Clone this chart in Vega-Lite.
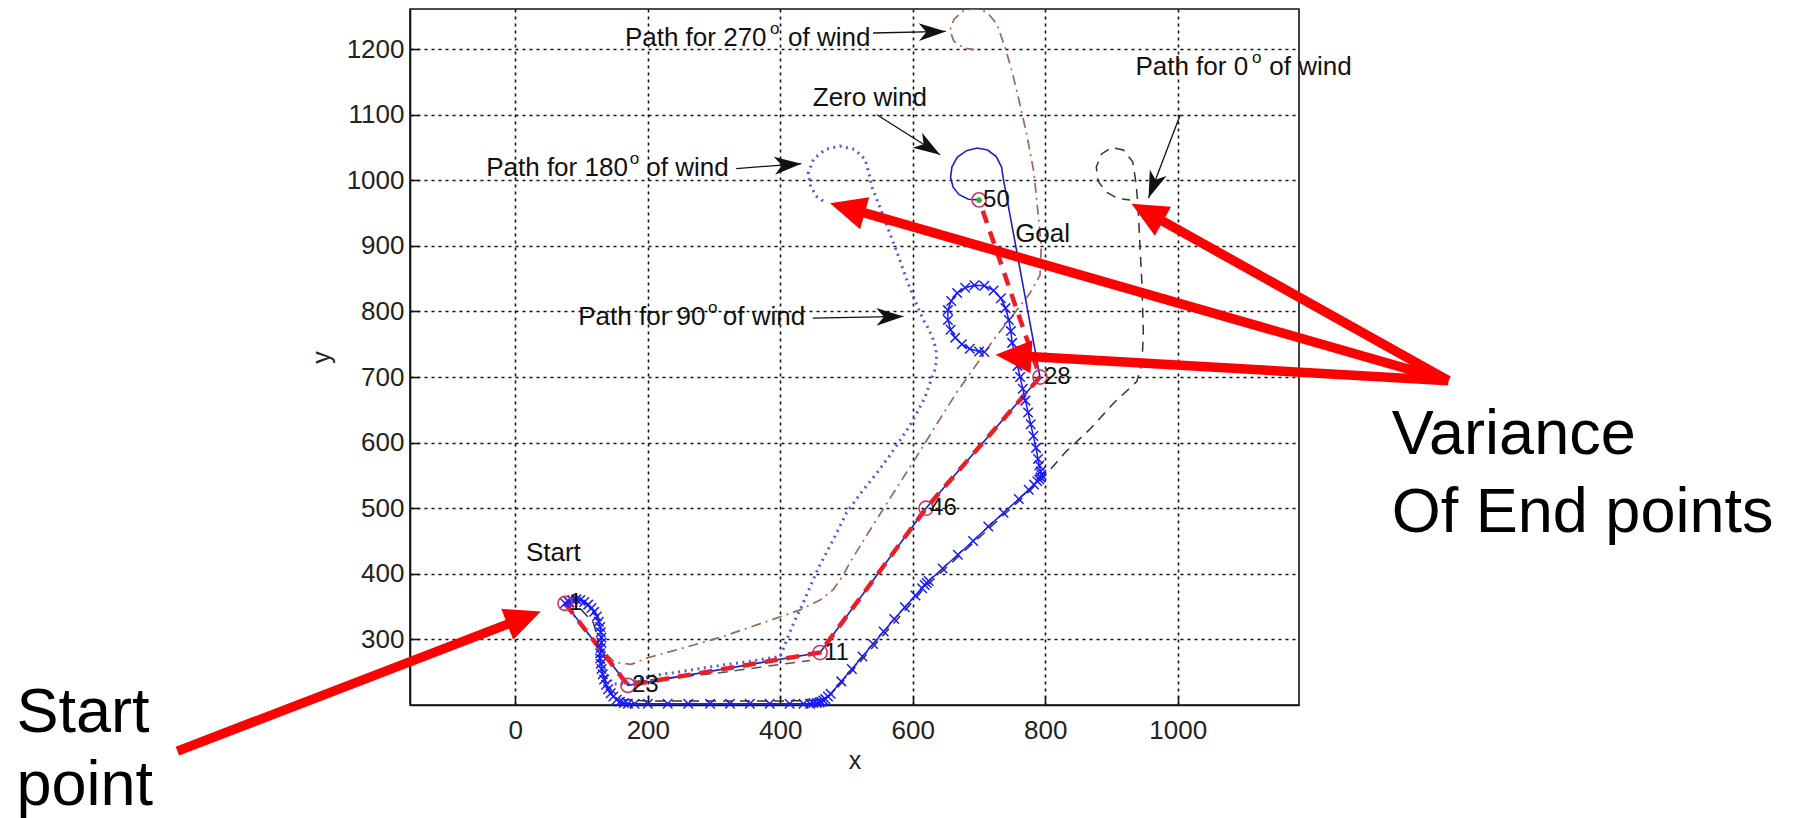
{
  "$schema": "https://vega.github.io/schema/vega-lite/v6.json",
  "autosize": {"type": "none"},
  "width": 889,
  "height": 696,
  "padding": {"left": 410, "top": 9, "right": 500, "bottom": 113},
  "background": "white",
  "config": {"view": {"stroke": "#111", "strokeWidth": 1.6}, "font": "Liberation Sans"},
  "datasets": {
    "red": [{"s":1,"x":75,"y":355},{"s":2,"x":170,"y":230},{"s":3,"x":460,"y":280},{"s":4,"x":620,"y":500},{"s":5,"x":792,"y":700},{"s":6,"x":700,"y":970}],
    "zero": [{"s":1,"x":75,"y":355},{"s":2,"x":170,"y":230},{"s":3,"x":460,"y":280},{"s":4,"x":620,"y":500},{"s":5,"x":792,"y":700},{"s":6,"x":737,"y":1000},{"s":7,"x":734,"y":1020},{"s":8,"x":726,"y":1036},{"s":9,"x":713,"y":1046},{"s":10,"x":697,"y":1049},{"s":11,"x":681,"y":1045},{"s":12,"x":667,"y":1035},{"s":13,"x":659,"y":1020},{"s":14,"x":657,"y":1004},{"s":15,"x":661,"y":989},{"s":16,"x":670,"y":978},{"s":17,"x":684,"y":971},{"s":18,"x":700,"y":970}],
    "xpath": [{"s":1,"x":75,"y":355},{"s":2,"x":80,"y":358},{"s":3,"x":86,"y":360},{"s":4,"x":92,"y":361},{"s":5,"x":98,"y":360},{"s":6,"x":104,"y":357},{"s":7,"x":110,"y":353},{"s":8,"x":115,"y":348},{"s":9,"x":119,"y":342},{"s":10,"x":123,"y":335},{"s":11,"x":126,"y":327},{"s":12,"x":128,"y":319},{"s":13,"x":129,"y":311},{"s":14,"x":130,"y":303},{"s":15,"x":130,"y":295},{"s":16,"x":129,"y":287},{"s":17,"x":128,"y":279},{"s":18,"x":128,"y":271},{"s":19,"x":129,"y":263},{"s":20,"x":130,"y":255},{"s":21,"x":132,"y":247},{"s":22,"x":134,"y":239},{"s":23,"x":137,"y":231},{"s":24,"x":140,"y":224},{"s":25,"x":144,"y":218},{"s":26,"x":148,"y":213},{"s":27,"x":153,"y":208},{"s":28,"x":158,"y":205},{"s":29,"x":164,"y":203},{"s":30,"x":170,"y":202},{"s":31,"x":180,"y":202},{"s":32,"x":200,"y":202},{"s":33,"x":230,"y":202},{"s":34,"x":261,"y":202},{"s":35,"x":294,"y":202},{"s":36,"x":324,"y":202},{"s":37,"x":354,"y":202},{"s":38,"x":384,"y":202},{"s":39,"x":414,"y":202},{"s":40,"x":435,"y":202},{"s":41,"x":445,"y":202},{"s":42,"x":450,"y":203},{"s":43,"x":455,"y":203},{"s":44,"x":459,"y":204},{"s":45,"x":462,"y":205},{"s":46,"x":465,"y":207},{"s":47,"x":468,"y":209},{"s":48,"x":472,"y":213},{"s":49,"x":476,"y":217},{"s":50,"x":492,"y":236},{"s":51,"x":508,"y":255},{"s":52,"x":524,"y":274},{"s":53,"x":540,"y":293},{"s":54,"x":556,"y":312},{"s":55,"x":572,"y":331},{"s":56,"x":588,"y":349},{"s":57,"x":604,"y":367},{"s":58,"x":614,"y":378},{"s":59,"x":618,"y":383},{"s":60,"x":621,"y":386},{"s":61,"x":624,"y":389},{"s":62,"x":645,"y":408},{"s":63,"x":668,"y":429},{"s":64,"x":691,"y":450},{"s":65,"x":714,"y":472},{"s":66,"x":737,"y":493},{"s":67,"x":760,"y":514},{"s":68,"x":775,"y":528},{"s":69,"x":783,"y":536},{"s":70,"x":788,"y":541},{"s":71,"x":791,"y":544},{"s":72,"x":793,"y":547},{"s":73,"x":794,"y":551},{"s":74,"x":793,"y":556},{"s":75,"x":791,"y":565},{"s":76,"x":789,"y":575},{"s":77,"x":786,"y":592},{"s":78,"x":782,"y":610},{"s":79,"x":778,"y":628},{"s":80,"x":774,"y":646},{"s":81,"x":770,"y":664},{"s":82,"x":766,"y":682},{"s":83,"x":762,"y":700},{"s":84,"x":758,"y":717},{"s":85,"x":754,"y":735},{"s":86,"x":750,"y":752},{"s":87,"x":748,"y":770},{"s":88,"x":745,"y":787},{"s":89,"x":740,"y":805},{"s":90,"x":733,"y":820},{"s":91,"x":722,"y":832},{"s":92,"x":708,"y":839},{"s":93,"x":693,"y":840},{"s":94,"x":679,"y":836},{"s":95,"x":667,"y":828},{"s":96,"x":658,"y":816},{"s":97,"x":653,"y":802},{"s":98,"x":653,"y":787},{"s":99,"x":657,"y":772},{"s":100,"x":664,"y":760},{"s":101,"x":674,"y":750},{"s":102,"x":686,"y":743},{"s":103,"x":700,"y":739},{"s":104,"x":708,"y":738}],
    "dotted": [{"s":1,"x":75,"y":355},{"s":2,"x":95,"y":358},{"s":3,"x":112,"y":350},{"s":4,"x":124,"y":332},{"s":5,"x":130,"y":305},{"s":6,"x":130,"y":275},{"s":7,"x":135,"y":250},{"s":8,"x":148,"y":232},{"s":9,"x":170,"y":233},{"s":10,"x":203,"y":244},{"s":11,"x":250,"y":251},{"s":12,"x":300,"y":259},{"s":13,"x":350,"y":266},{"s":14,"x":400,"y":274},{"s":15,"x":410,"y":300},{"s":16,"x":420,"y":325},{"s":17,"x":432,"y":350},{"s":18,"x":445,"y":380},{"s":19,"x":458,"y":410},{"s":20,"x":480,"y":452},{"s":21,"x":500,"y":493},{"s":22,"x":523,"y":525},{"s":23,"x":546,"y":554},{"s":24,"x":565,"y":580},{"s":25,"x":581,"y":604},{"s":26,"x":595,"y":625},{"s":27,"x":606,"y":645},{"s":28,"x":618,"y":668},{"s":29,"x":626,"y":691},{"s":30,"x":633,"y":710},{"s":31,"x":636,"y":726},{"s":32,"x":635,"y":742},{"s":33,"x":631,"y":757},{"s":34,"x":624,"y":773},{"s":35,"x":616,"y":787},{"s":36,"x":606,"y":810},{"s":37,"x":592,"y":845},{"s":38,"x":578,"y":885},{"s":39,"x":565,"y":920},{"s":40,"x":550,"y":960},{"s":41,"x":538,"y":990},{"s":42,"x":534,"y":1010},{"s":43,"x":528,"y":1032},{"s":44,"x":512,"y":1047},{"s":45,"x":490,"y":1052},{"s":46,"x":468,"y":1047},{"s":47,"x":450,"y":1032},{"s":48,"x":442,"y":1010},{"s":49,"x":446,"y":990},{"s":50,"x":455,"y":975},{"s":51,"x":468,"y":966}],
    "brown": [{"s":1,"x":75,"y":355},{"s":2,"x":100,"y":320},{"s":3,"x":125,"y":290},{"s":4,"x":150,"y":265},{"s":5,"x":175,"y":262},{"s":6,"x":200,"y":272},{"s":7,"x":250,"y":286},{"s":8,"x":309,"y":303},{"s":9,"x":370,"y":324},{"s":10,"x":430,"y":345},{"s":11,"x":460,"y":360},{"s":12,"x":480,"y":376},{"s":13,"x":495,"y":398},{"s":14,"x":505,"y":417},{"s":15,"x":530,"y":458},{"s":16,"x":555,"y":498},{"s":17,"x":580,"y":538},{"s":18,"x":606,"y":579},{"s":19,"x":636,"y":628},{"s":20,"x":666,"y":676},{"s":21,"x":694,"y":716},{"s":22,"x":722,"y":757},{"s":23,"x":750,"y":793},{"s":24,"x":777,"y":828},{"s":25,"x":792,"y":855},{"s":26,"x":794,"y":900},{"s":27,"x":788,"y":960},{"s":28,"x":783,"y":1011},{"s":29,"x":772,"y":1070},{"s":30,"x":760,"y":1123},{"s":31,"x":750,"y":1165},{"s":32,"x":740,"y":1200},{"s":33,"x":727,"y":1238},{"s":34,"x":712,"y":1256},{"s":35,"x":695,"y":1262},{"s":36,"x":676,"y":1258},{"s":37,"x":662,"y":1245},{"s":38,"x":656,"y":1228},{"s":39,"x":662,"y":1212},{"s":40,"x":676,"y":1202},{"s":41,"x":692,"y":1199}],
    "black": [{"s":1,"x":75,"y":355},{"s":2,"x":100,"y":345},{"s":3,"x":118,"y":325},{"s":4,"x":125,"y":300},{"s":5,"x":127,"y":270},{"s":6,"x":132,"y":245},{"s":7,"x":145,"y":222},{"s":8,"x":165,"y":208},{"s":9,"x":200,"y":206},{"s":10,"x":300,"y":206},{"s":11,"x":400,"y":206},{"s":12,"x":455,"y":207},{"s":13,"x":472,"y":212},{"s":14,"x":485,"y":225},{"s":15,"x":550,"y":300},{"s":16,"x":620,"y":381},{"s":17,"x":700,"y":455},{"s":18,"x":770,"y":520},{"s":19,"x":800,"y":550},{"s":20,"x":830,"y":585},{"s":21,"x":868,"y":621},{"s":22,"x":903,"y":660},{"s":23,"x":938,"y":693},{"s":24,"x":946,"y":720},{"s":25,"x":948,"y":767},{"s":26,"x":946,"y":840},{"s":27,"x":943,"y":899},{"s":28,"x":940,"y":960},{"s":29,"x":937,"y":996},{"s":30,"x":932,"y":1028},{"s":31,"x":918,"y":1046},{"s":32,"x":900,"y":1050},{"s":33,"x":885,"y":1040},{"s":34,"x":877,"y":1020},{"s":35,"x":880,"y":998},{"s":36,"x":892,"y":982},{"s":37,"x":910,"y":972},{"s":38,"x":928,"y":970}],
    "graydash": [{"s":1,"x":178,"y":236},{"s":2,"x":300,"y":248},{"s":3,"x":445,"y":268}],
    "wp": [{"x":75,"y":355,"label":"1"},{"x":170,"y":230,"label":"23"},{"x":460,"y":280,"label":"11"},{"x":620,"y":500,"label":"46"},{"x":792,"y":700,"label":"28"},{"x":700,"y":970,"label":"50"}],
    "anno": [{"x":165.4,"y":1205,"t":"Path for 270"},{"x":411.6,"y":1205,"t":"of wind"},{"x":-44,"y":1005.8,"t":"Path for 180"},{"x":197.6,"y":1005.8,"t":"of wind"},{"x":95,"y":779.7,"t":"Path for 90"},{"x":313.3,"y":779.7,"t":"of wind"},{"x":936,"y":1160.8,"t":"Path for 0"},{"x":1138.2,"y":1160.8,"t":"of wind"},{"x":449,"y":1112.5,"t":"Zero wind"},{"x":754.5,"y":906,"t":"Goal"},{"x":16,"y":420,"t":"Start"}],
    "sup": [{"x":384.5,"y":1205,"t":"o"},{"x":172.8,"y":1005.8,"t":"o"},{"x":291,"y":779.7,"t":"o"},{"x":1112,"y":1160.8,"t":"o"}],
    "blackarrows": [{"id":"a270","s":1,"x":540,"y":1224.4},{"id":"a270","s":2,"x":649.8,"y":1226.8},{"id":"zero","s":1,"x":545.8,"y":1099.8},{"id":"zero","s":2,"x":641.2,"y":1038.9},{"id":"a180","s":1,"x":333.5,"y":1017.8},{"id":"a180","s":2,"x":431.7,"y":1025.2},{"id":"a90","s":1,"x":449.1,"y":789.9},{"id":"a90","s":2,"x":585.8,"y":792.4},{"id":"a0","s":1,"x":1003.8,"y":1099.8},{"id":"a0","s":2,"x":955.9,"y":972.9}],
    "redarrows": [{"id":"rs","s":1,"x":-510.1,"y":129.6},{"id":"rs","s":2,"x":3.3,"y":329.0},{"id":"ra","s":1,"x":1408.6,"y":694.4},{"id":"ra","s":2,"x":511.3,"y":954.7},{"id":"rb","s":1,"x":1408.6,"y":694.4},{"id":"rb","s":2,"x":762.7,"y":731.9},{"id":"rc","s":1,"x":1408.6,"y":694.4},{"id":"rc","s":2,"x":963.1,"y":945.6}],
    "big": [{"x":-753,"y":159.5,"t":"Start"},{"x":-753,"y":47,"t":"point"},{"x":1323,"y":583,"t":"Variance"},{"x":1323,"y":463.7,"t":"Of End points"}]
  },
  "encoding": {
    "x": {"field": "x", "type": "quantitative", "scale": {"domain": [-159, 1183], "nice": false, "zero": false},
      "axis": {"values": [0, 200, 400, 600, 800, 1000], "format": "d", "title": "x", "grid": true, "gridDash": [3, 4], "gridColor": "#111", "gridWidth": 1.6, "gridOpacity": 1, "domainColor": "#111", "domainWidth": 1.6, "tickSize": -9, "tickColor": "#111", "tickWidth": 1.6, "labelFontSize": 26, "labelFont": "Liberation Sans", "labelColor": "#222", "labelPadding": 21, "labelFlush": false, "labelOverlap": false, "titleFont": "Liberation Sans", "titleFontSize": 25, "titleFontWeight": "normal", "titleColor": "#222", "titleBaseline": "alphabetic", "titleY": 63}},
    "y": {"field": "y", "type": "quantitative", "scale": {"domain": [200, 1261], "nice": false, "zero": false},
      "axis": {"values": [300, 400, 500, 600, 700, 800, 900, 1000, 1100, 1200], "format": "d", "title": "y", "grid": true, "gridDash": [3, 4], "gridColor": "#111", "gridWidth": 1.6, "gridOpacity": 1, "domainColor": "#111", "domainWidth": 1.6, "tickSize": -9, "tickColor": "#111", "tickWidth": 1.6, "labelFontSize": 26, "labelFont": "Liberation Sans", "labelColor": "#222", "labelPadding": 15, "labelFlush": false, "labelOverlap": false, "titleFont": "Liberation Sans", "titleFontSize": 25, "titleFontWeight": "normal", "titleColor": "#222", "titleBaseline": "alphabetic", "titleX": -81}}
  },
  "layer": [
    {"data": {"name": "brown"}, "mark": {"type": "line", "color": "#9a6a58", "strokeWidth": 1.7, "strokeDash": [10, 5, 2, 5], "clip": true}, "encoding": {"order": {"field": "s"}}},
    {"data": {"name": "black"}, "mark": {"type": "line", "color": "#333333", "strokeWidth": 1.5, "strokeDash": [10, 7], "clip": true}, "encoding": {"order": {"field": "s"}}},
    {"data": {"name": "graydash"}, "mark": {"type": "line", "color": "#555555", "strokeWidth": 1.5, "strokeDash": [10, 7]}, "encoding": {"order": {"field": "s"}}},
    {"data": {"name": "dotted"}, "mark": {"type": "line", "color": "#5a5ad0", "strokeWidth": 3, "strokeDash": [2, 4.5], "clip": true}, "encoding": {"order": {"field": "s"}}},
    {"data": {"name": "zero"}, "mark": {"type": "line", "color": "#1f1fc8", "strokeWidth": 1.6}, "encoding": {"order": {"field": "s"}}},
    {"data": {"name": "red"}, "mark": {"type": "line", "color": "#ee1c24", "strokeWidth": 4.5, "strokeDash": [13, 9]}, "encoding": {"order": {"field": "s"}}},
    {"data": {"name": "xpath"}, "mark": {"type": "line", "color": "#1a1aff", "strokeWidth": 1.5}, "encoding": {"order": {"field": "s"}}},
    {"data": {"name": "xpath"}, "mark": {"type": "point", "shape": "M-1,-1L1,1M-1,1L1,-1", "size": 90, "filled": false, "stroke": "#1a1aff", "strokeWidth": 1.5, "opacity": 1}},
    {"data": {"name": "wp"}, "mark": {"type": "point", "shape": "circle", "size": 200, "filled": false, "stroke": "#cc3366", "strokeWidth": 1.6, "opacity": 1}},
    {"data": {"values": [{"x": 700, "y": 970}]}, "mark": {"type": "point", "shape": "circle", "size": 30, "filled": true, "color": "#22bb22", "opacity": 1}},
    {"data": {"name": "wp"}, "mark": {"type": "text", "align": "left", "baseline": "middle", "dx": 4, "fontSize": 24, "font": "Liberation Sans", "color": "#111"}, "encoding": {"text": {"field": "label"}}},
    {"data": {"name": "anno"}, "mark": {"type": "text", "align": "left", "baseline": "alphabetic", "fontSize": 26, "font": "Liberation Sans", "color": "#111"}, "encoding": {"text": {"field": "t"}}},
    {"data": {"name": "sup"}, "mark": {"type": "text", "align": "left", "baseline": "alphabetic", "dy": -12, "fontSize": 17, "font": "Liberation Sans", "color": "#111"}, "encoding": {"text": {"field": "t"}}},
    {"data": {"name": "blackarrows"}, "mark": {"type": "line", "color": "#111", "strokeWidth": 1.3}, "encoding": {"detail": {"field": "id"}, "order": {"field": "s"}}},
    {"data": {"values": [{"x": 649.8, "y": 1226.8}]}, "mark": {"type": "point", "shape": "M0,0L-1,-0.33L-0.72,0L-1,0.33Z", "size": 2916, "filled": true, "color": "#111", "opacity": 1, "angle": -1.3}},
    {"data": {"values": [{"x": 641.2, "y": 1038.9}]}, "mark": {"type": "point", "shape": "M0,0L-1,-0.33L-0.72,0L-1,0.33Z", "size": 2916, "filled": true, "color": "#111", "opacity": 1, "angle": 32.4}},
    {"data": {"values": [{"x": 431.7, "y": 1025.2}]}, "mark": {"type": "point", "shape": "M0,0L-1,-0.33L-0.72,0L-1,0.33Z", "size": 2916, "filled": true, "color": "#111", "opacity": 1, "angle": -4.4}},
    {"data": {"values": [{"x": 585.8, "y": 792.4}]}, "mark": {"type": "point", "shape": "M0,0L-1,-0.33L-0.72,0L-1,0.33Z", "size": 2916, "filled": true, "color": "#111", "opacity": 1, "angle": -1}},
    {"data": {"values": [{"x": 955.9, "y": 972.9}]}, "mark": {"type": "point", "shape": "M0,0L-1,-0.33L-0.72,0L-1,0.33Z", "size": 2916, "filled": true, "color": "#111", "opacity": 1, "angle": 110.8}},
    {"data": {"name": "redarrows"}, "mark": {"type": "line", "color": "#ff0000", "strokeWidth": 9.5}, "encoding": {"detail": {"field": "id"}, "order": {"field": "s"}}},
    {"data": {"values": [{"x": 38.5, "y": 342.7}]}, "mark": {"type": "point", "shape": "M0,0L-1,-0.46L-1,0.46Z", "size": 5184, "filled": true, "color": "#ff0000", "opacity": 1, "angle": -21.05}},
    {"data": {"values": [{"x": 475.1, "y": 964.8}]}, "mark": {"type": "point", "shape": "M0,0L-1,-0.46L-1,0.46Z", "size": 5184, "filled": true, "color": "#ff0000", "opacity": 1, "angle": 196.0}},
    {"data": {"values": [{"x": 724.9, "y": 734.0}]}, "mark": {"type": "point", "shape": "M0,0L-1,-0.46L-1,0.46Z", "size": 5184, "filled": true, "color": "#ff0000", "opacity": 1, "angle": 183.3}},
    {"data": {"values": [{"x": 930.2, "y": 964.2}]}, "mark": {"type": "point", "shape": "M0,0L-1,-0.46L-1,0.46Z", "size": 5184, "filled": true, "color": "#ff0000", "opacity": 1, "angle": 209.2}},
    {"data": {"name": "big"}, "mark": {"type": "text", "align": "left", "baseline": "alphabetic", "fontSize": 63, "font": "Liberation Sans", "color": "#000"}, "encoding": {"text": {"field": "t"}}}
  ]
}
